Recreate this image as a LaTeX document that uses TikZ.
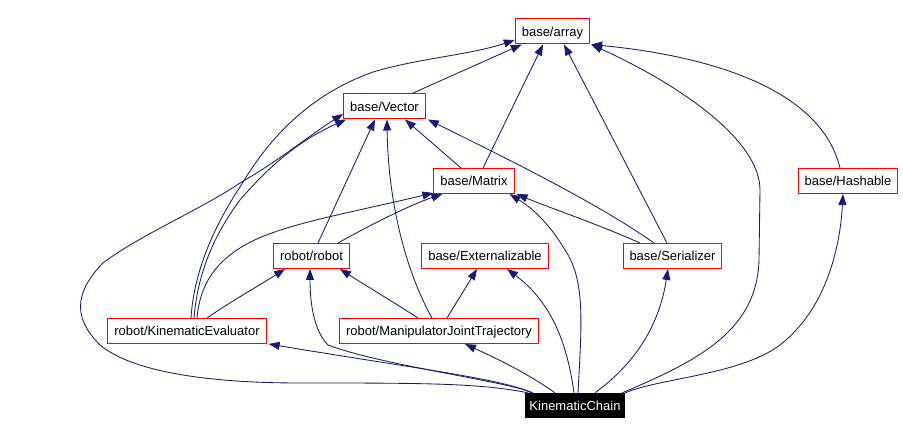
\documentclass[tikz,border=0pt]{standalone}
\usepackage{fontspec}
\setmainfont{Liberation Sans}
\usetikzlibrary{arrows.meta,calc}
\definecolor{edgecol}{HTML}{191970}
\definecolor{boxred}{HTML}{FF0000}
\pgfdeclarelayer{bg}
\pgfdeclarelayer{paper}
\pgfsetlayers{paper,bg,main}
\begin{document}
\begin{tikzpicture}[x=1pt,y=-1pt,
  cls/.style={draw=boxred, line width=1pt, fill=white, inner xsep=6.5pt, inner ysep=0pt, minimum height=25pt, text depth=0pt, font=\fontsize{13}{15}\selectfont},
  cur/.style={fill=black, text=white, inner xsep=4.5pt, inner ysep=0pt, minimum height=25pt, text depth=0pt, font=\fontsize{13}{15}\selectfont},
  dep/.style={draw=edgecol, line width=0.85pt, -{Triangle[length=11pt,width=8pt]}}
]
\begin{pgfonlayer}{paper}
\fill[white] (0,0) rectangle (903,435);
\end{pgfonlayer}
\useasboundingbox (0,0) rectangle (903,435);
\node[cls] (arr) at (552.5,31.5) {base/array};
\node[cls] (vec) at (384.5,106.5) {base/Vector};
\node[cls] (mat) at (474,181) {base/Matrix};
\node[cls] (hash) at (848,181) {base/Hashable};
\node[cls] (rob) at (311.5,256) {robot/robot};
\node[cls] (ext) at (485,256) {base/Externalizable};
\node[cls] (ser) at (672.5,256) {base/Serializer};
\node[cls] (kev) at (187,331) {robot/KinematicEvaluator};
\node[cls] (mjt) at (439,331) {robot/ManipulatorJointTrajectory};
\node[cur] (kc) at (575,405.5) {KinematicChain};
\begin{pgfonlayer}{bg}
\draw[dep] ($(vec.north)+(27.5,0)$) -- ($(arr.south west)+(7,0)$);
\draw[dep] ($(mat.north)+(9,0)$) -- ($(arr.south)+(-9.5,0)$);
\draw[dep] ($(mat.north)+(-13,0)$) -- ($(vec.south)+(20.5,0)$);
\draw[dep] ($(ser.north)+(-5.5,0)$) -- ($(arr.south)+(11.5,0)$);
\draw[dep] ($(ser.north)+(-18.5,0)$) .. controls (600,205) and (520,165) .. ($(vec.south east)+(2,0)$);
\draw[dep] ($(ser.north)+(-32.5,0)$) .. controls (600,225) and (550,208) .. ($(mat.south east)+(2,0)$);
\draw[dep] ($(hash.north)+(-8,0)$) .. controls (820,85) and (700,55) .. ($(arr.south east)+(1,0)$);
\draw[dep] ($(rob.north)+(6.5,0)$) -- ($(vec.south)+(-9.5,0)$);
\draw[dep] ($(rob.north)+(26.5,0)$) .. controls (370,225) and (410,205) .. ($(mat.south west)+(9,0)$);
\draw[dep] ($(kev.north)+(4,0)$) .. controls (194,270) and (215,225) .. (240,187) .. controls (262,150) and (300,98) .. (373,72) .. controls (420,58) and (470,55) .. ($(arr.west)+(0,8.5)$);
\draw[dep] ($(kev.north)+(7,0)$) .. controls (197,280) and (210,240) .. (240,200) .. controls (270,165) and (300,140) .. ($(vec.south west)+(3,0)$);
\draw[dep] ($(kev.north)+(10,0)$) .. controls (200,285) and (215,262) .. (245,245) .. controls (280,225) and (340,215) .. ($(mat.south west)+(0,-1)$);
\draw[dep] ($(kev.north)+(20,0)$) .. controls (230,302) and (260,285) .. ($(rob.south west)+(12,0)$);
\draw[dep] ($(mjt.north)+(-7,0)$) .. controls (405,270) and (388,200) .. ($(vec.south)+(2.5,0)$);
\draw[dep] ($(mjt.north)+(-21,0)$) .. controls (390,300) and (365,285) .. ($(rob.south east)+(-10,0)$);
\draw[dep] ($(mjt.north)+(8,0)$) -- ($(ext.south)+(-8,0)$);
\draw[dep] ($(kc.north west)+(3,0)$) .. controls (480,383) and (420,383) .. (300,383) .. controls (200,383) and (130,370) .. (100,345) .. controls (75,320) and (72,295) .. (103,263) .. controls (140,235) and (200,210) .. (240,183) .. controls (280,160) and (310,135) .. ($(vec.west)+(0,7.5)$);
\draw[dep] ($(kc.north west)+(6,0)$) .. controls (510,380) and (400,366) .. ($(kev.south east)+(2,0)$);
\draw[dep] ($(kc.north west)+(8,0)$) .. controls (510,382) and (380,365) .. (328,345) .. controls (313,330) and (310,300) .. ($(rob.south)+(-1.5,0)$);
\draw[dep] ($(kc.north)+(-20,0)$) .. controls (530,375) and (500,360) .. ($(mjt.south)+(26,0)$);
\draw[dep] ($(kc.north)+(-1,0)$) .. controls (568,350) and (555,305) .. ($(ext.south)+(22,0)$);
\draw[dep] ($(kc.north)+(3,0)$) .. controls (582,320) and (585,280) .. (565,250) .. controls (550,225) and (535,210) .. ($(mat.south east)+(-5,0)$);
\draw[dep] ($(kc.north)+(20,0)$) .. controls (640,360) and (660,320) .. ($(ser.south)+(-4.5,0)$);
\draw[dep] ($(kc.north east)+(-3,0)$) .. controls (700,360) and (757,330) .. (759,260) -- (760,190) .. controls (760,140) and (680,85) .. ($(arr.south east)+(1,0)$);
\draw[dep] (kc.north east) .. controls (660,378) and (740,375) .. (780,345) .. controls (825,310) and (840,250) .. ($(hash.south)+(-5,0)$);
\end{pgfonlayer}
\end{tikzpicture}
\end{document}
